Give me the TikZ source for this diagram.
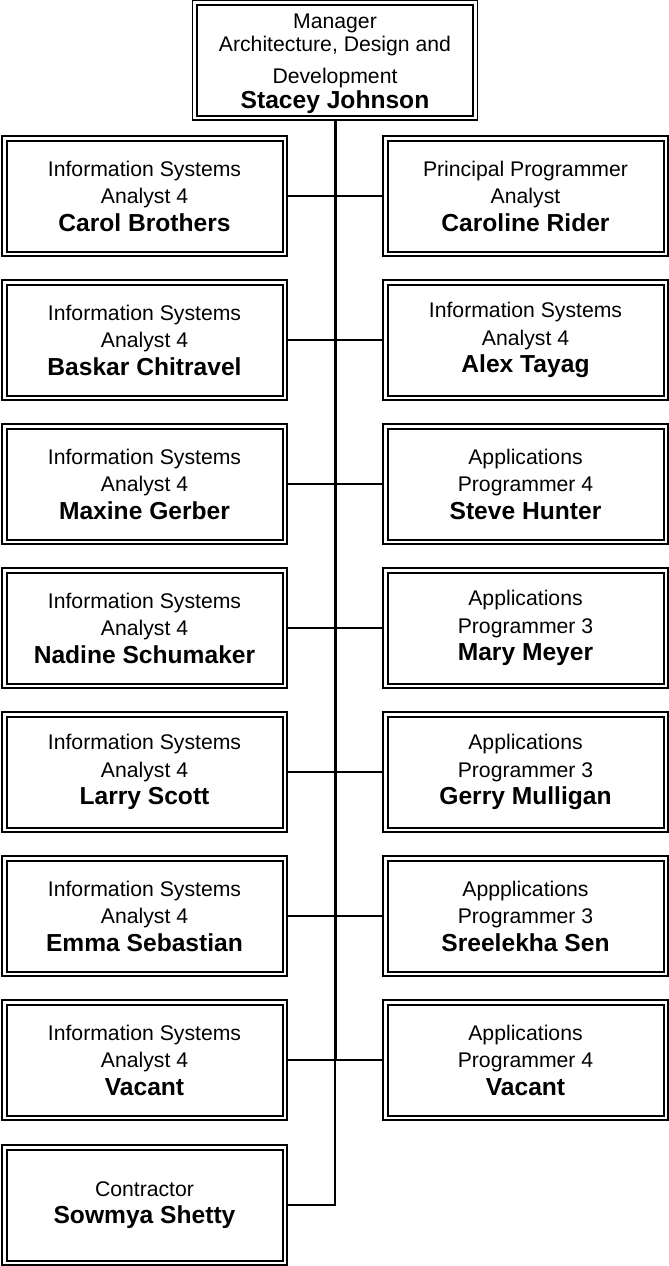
\documentclass[tikz,border=0pt]{standalone}
\usepackage{fontspec}
\setmainfont{Liberation Sans}
\newcommand{\nm}[1]{{\fontsize{24.6}{27.5}\selectfont\bfseries #1}}
\tikzset{
  obox/.style={draw, line width=1.2pt, minimum width=285pt, minimum height=120pt,
    inner sep=0pt, outer sep=0pt, align=center, font=\fontsize{21.2}{27.5}\selectfont},
  inbox/.style={line width=2pt},
  link/.style={line width=1.3pt},
  trunkline/.style={line width=3pt},
}
\begin{document}
\begin{tikzpicture}[x=1pt,y=-1pt]
\useasboundingbox (0,0) rectangle (669,1266);
\node[obox] (top) at (335,60) {\rule{0pt}{22pt}Manager\\[-4.5pt]Architecture, Design and\\[4.5pt]Development\\[-2.5pt]\nm{Stacey Johnson}};
\node[obox] (l1) at (144.5,196) {Information Systems\\Analyst 4\\\nm{Carol Brothers}};
\node[obox] (l2) at (144.5,340) {Information Systems\\Analyst 4\\\nm{Baskar Chitravel}};
\node[obox] (l3) at (144.5,484) {Information Systems\\Analyst 4\\\nm{Maxine Gerber}};
\node[obox] (l4) at (144.5,628) {Information Systems\\Analyst 4\\\nm{Nadine Schumaker}};
\node[obox] (l5) at (144.5,772) {Information Systems\\Analyst 4\\\nm{Larry Scott}};
\node[obox] (l6) at (144.5,916) {Information Systems\\Analyst 4\\\nm{Emma Sebastian}};
\node[obox] (l7) at (144.5,1060) {Information Systems\\Analyst 4\\\nm{Vacant}};
\node[obox] (l8) at (144.5,1205) {Contractor\\\nm{Sowmya Shetty}};
\node[obox] (r1) at (525.5,196) {Principal Programmer\\Analyst\\\nm{Caroline Rider}};
\node[obox] (r2) at (525.5,340) {Information Systems\\Analyst 4\\\nm{Alex Tayag}};
\node[obox] (r3) at (525.5,484) {Applications\\Programmer 4\\\nm{Steve Hunter}};
\node[obox] (r4) at (525.5,628) {Applications\\Programmer 3\\\nm{Mary Meyer}};
\node[obox] (r5) at (525.5,772) {Applications\\Programmer 3\\\nm{Gerry Mulligan}};
\node[obox] (r6) at (525.5,916) {Appplications\\Programmer 3\\\nm{Sreelekha Sen}};
\node[obox] (r7) at (525.5,1060) {Applications\\Programmer 4\\\nm{Vacant}};
\foreach \n in {top,l1,l2,l3,l4,l5,l6,l7,l8,r1,r2,r3,r4,r5,r6,r7}
  \draw[inbox] ([shift={(4.5pt,-4.5pt)}]\n.north west) rectangle ([shift={(-4.5pt,4.5pt)}]\n.south east);
\coordinate (j7) at (top.south |- l7.east);
\coordinate (j8) at (top.south |- l8.east);
\foreach \k in {1,...,7}
  \draw[link] (l\k.east) -- (r\k.west);
\draw[trunkline] (top.south) -- (j7);
\draw[link] (j7) -- (j8) -- (l8.east);
\end{tikzpicture}
\end{document}
